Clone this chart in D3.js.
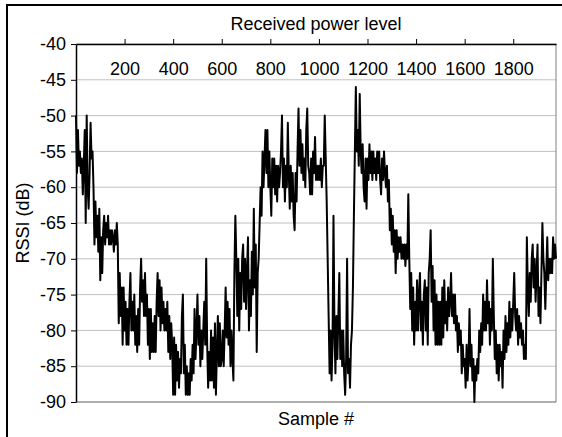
<!DOCTYPE html>
<html>
<head>
<meta charset="UTF-8">
<script src="https://d3js.org/d3.v7.min.js"></script>
<style>
body { margin: 0; background: #fff; }
svg { display: block; font-family: Arial, "Liberation Sans", sans-serif; }
</style>
</head>
<body>
<svg width="562" height="437"></svg>
<script>

// one value every 4 samples (dB); 15 values = 60 samples per row
var sampleStep = 4;
var sampleCount = 1976;
var rssi = [
  -50,-58,-52,-57,-55,-58,-56,-61,-57,-52,-65,-50,-60,-63,-58,
  -51,-56,-55,-60,-68,-62,-67,-64,-69,-63,-73,-67,-72,-66,-64,
  -68,-65,-67,-64,-68,-66,-68,-66,-67,-69,-66,-68,-65,-68,-79,
  -72,-78,-74,-82,-74,-80,-76,-82,-77,-82,-76,-72,-80,-76,-80,
  -75,-82,-78,-83,-77,-82,-74,-70,-76,-73,-78,-72,-78,-75,-82,
  -77,-84,-77,-83,-79,-83,-78,-83,-76,-72,-78,-73,-80,-74,-79,
  -76,-80,-77,-80,-76,-83,-78,-84,-79,-82,-89,-81,-89,-82,-87,
  -83,-88,-84,-86,-78,-75,-86,-82,-89,-85,-89,-86,-89,-84,-87,
  -82,-86,-77,-84,-80,-75,-82,-78,-85,-80,-84,-80,-76,-82,-70,
  -82,-88,-83,-87,-80,-87,-81,-88,-79,-89,-83,-78,-85,-79,-85,
  -84,-80,-85,-80,-74,-81,-76,-82,-77,-85,-80,-84,-87,-72,-64,
  -70,-78,-70,-80,-72,-77,-70,-68,-76,-70,-77,-72,-67,-80,-73,
  -78,-69,-75,-63,-74,-68,-83,-72,-70,-65,-60,-64,-55,-60,-56,
  -52,-58,-52,-60,-55,-60,-64,-56,-60,-56,-61,-57,-62,-57,-60,
  -58,-55,-50,-60,-56,-62,-57,-60,-51,-58,-63,-57,-62,-58,-64,
  -66,-58,-62,-55,-49,-57,-52,-58,-54,-59,-56,-60,-52,-49,-57,
  -58,-61,-56,-61,-55,-58,-53,-59,-57,-59,-57,-59,-56,-60,-57,
  -57,-50,-56,-62,-70,-78,-86,-80,-87,-82,-64,-80,-86,-78,-84,
  -78,-72,-84,-80,-85,-80,-86,-89,-84,-70,-86,-84,-88,-82,-80,
  -74,-64,-55,-46,-55,-52,-57,-47,-55,-58,-54,-60,-62,-56,-63,
  -56,-59,-54,-58,-55,-59,-55,-58,-56,-59,-55,-58,-55,-59,-61,
  -56,-59,-55,-58,-60,-57,-62,-59,-66,-63,-68,-64,-69,-66,-72,
  -66,-70,-67,-69,-67,-70,-68,-70,-68,-71,-68,-70,-61,-70,-77,
  -72,-80,-74,-82,-76,-80,-73,-80,-75,-72,-80,-76,-82,-75,-73,
  -80,-74,-82,-72,-70,-66,-76,-71,-80,-73,-82,-75,-82,-76,-82,
  -76,-82,-74,-81,-73,-79,-76,-80,-74,-78,-76,-72,-78,-75,-79,
  -75,-80,-78,-83,-79,-82,-80,-86,-82,-85,-84,-88,-82,-87,-84,
  -77,-85,-82,-87,-84,-90,-85,-87,-84,-86,-80,-83,-79,-82,-75,
  -80,-76,-80,-73,-79,-76,-82,-77,-80,-70,-78,-84,-80,-86,-82,
  -87,-82,-85,-83,-88,-80,-84,-78,-83,-79,-82,-76,-81,-77,-80,
  -76,-72,-78,-80,-77,-82,-78,-81,-79,-82,-80,-84,-82,-84,-67,
  -74,-78,-72,-76,-70,-68,-74,-70,-76,-72,-68,-78,-74,-79,-72,
  -65,-70,-72,-77,-72,-67,-73,-70,-72,-70,-72,-67,-70,-68,-70
];

var yTicks = [-40, -45, -50, -55, -60, -65, -70, -75, -80, -85, -90];
var xTicks = [200, 400, 600, 800, 1000, 1200, 1400, 1600, 1800];

var chartTitle = "Received power level",
    xTitle = "Sample #",
    yTitle = "RSSI (dB)";

var svg = d3.select("svg"),
    margin = {top: 44, right: 6, bottom: 35, left: 76},
    chartWidth = +svg.attr("width") - margin.left - margin.right,
    chartHeight = +svg.attr("height") - margin.top - margin.bottom;

// outer chart frame (runs off the bottom/right of the picture)
svg.append("rect")
    .attr("x", 7)
    .attr("y", 5)
    .attr("width", 620)
    .attr("height", 500)
    .attr("fill", "none")
    .attr("stroke", "#000")
    .attr("stroke-width", 2);

var g = svg.append("g").attr("transform", "translate(" + margin.left + "," + margin.top + ")");

var x = d3.scaleLinear().domain([0, sampleCount]).range([0, chartWidth]);
var y = d3.scaleLinear().domain([-90, -40]).range([chartHeight, 0]);

// gridlines
g.append("g")
  .selectAll("line")
  .data(yTicks)
  .enter().append("line")
    .attr("x1", 0)
    .attr("x2", chartWidth)
    .attr("y1", function(d) { return y(d); })
    .attr("y2", function(d) { return y(d); })
    .attr("stroke", "#c0c0c0")
    .attr("stroke-width", 1);

// right + bottom plot border
g.append("path")
    .attr("d", "M" + chartWidth + ",0V" + chartHeight + "H0")
    .attr("fill", "none")
    .attr("stroke", "#808080")
    .attr("stroke-width", 1);

var line = d3.line()
    .x(function(d, i) { return x(i * sampleStep); })
    .y(function(d) { return y(d); });

g.append("path")
    .datum(rssi)
    .attr("d", line)
    .attr("fill", "none")
    .attr("stroke", "#000")
    .attr("stroke-width", 2)
    .attr("stroke-linejoin", "round");

// plain labels: hyphen minus, no thousands separator
var plain = function(d) { return d; };

// x axis sits on top of the plot, labels hang inside
var xAxis = g.append("g")
    .call(d3.axisBottom(x).tickValues(xTicks).tickFormat(plain)
      .tickSizeInner(-5).tickSizeOuter(0).tickPadding(18));
xAxis.selectAll("text").attr("font-size", 18).attr("fill", "#000").attr("font-family", null);
xAxis.select(".domain").attr("stroke", "#000").attr("stroke-width", 1.5);
xAxis.selectAll(".tick line").attr("stroke", "#000");

var yAxis = g.append("g")
    .call(d3.axisLeft(y).tickValues(yTicks).tickFormat(plain)
      .tickSizeInner(5).tickSizeOuter(0).tickPadding(5));
yAxis.selectAll("text").attr("font-size", 18).attr("fill", "#000").attr("font-family", null);
yAxis.select(".domain").attr("stroke", "#000").attr("stroke-width", 1.5);
yAxis.selectAll(".tick line").attr("stroke", "#000");

svg.append("text")
    .attr("x", margin.left + chartWidth / 2)
    .attr("y", 30)
    .attr("text-anchor", "middle")
    .attr("font-size", 18)
    .text(chartTitle);

svg.append("text")
    .attr("x", margin.left + chartWidth / 2)
    .attr("y", 425)
    .attr("text-anchor", "middle")
    .attr("font-size", 18)
    .text(xTitle);

svg.append("text")
    .attr("transform", "translate(29," + (margin.top + chartHeight / 2) + ") rotate(-90)")
    .attr("text-anchor", "middle")
    .attr("font-size", 18)
    .text(yTitle);

</script>
</body>
</html>
